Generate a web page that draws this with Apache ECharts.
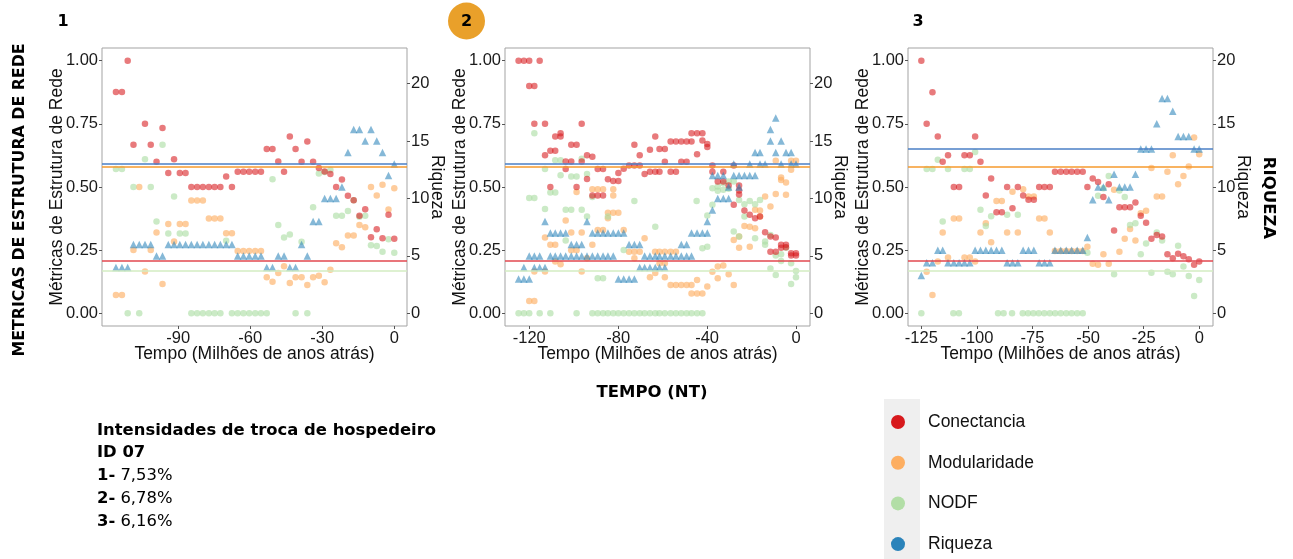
<!DOCTYPE html>
<html>
<head>
<meta charset="utf-8">
<script src="https://cdn.jsdelivr.net/npm/echarts@6/dist/echarts.min.js"></script>
<style>
html,body{margin:0;padding:0;background:#fff}
#main{width:1293px;height:559px}
</style>
</head>
<body>
<div id="main"></div>
<script>
// ---- dados ----
// painel 1: um valor por passo de tempo
var t1 = [-115.9,-113.4,-111.0,-108.6,-106.2,-103.8,-101.4,-99.0,-96.5,-94.1,-91.7,-89.3,-86.9,-84.5,-82.1,-79.7,-77.2,-74.8,-72.4,-70.0,-67.6,-65.2,-62.8,-60.4,-57.9,-55.5,-53.1,-50.7,-48.3,-45.9,-43.5,-41.1,-38.6,-36.2,-33.8,-31.4,-29.0,-26.6,-24.2,-21.8,-19.3,-16.9,-14.5,-12.1,-9.7,-7.3,-4.9,-2.4,0];
var conect1 = [0.876,0.876,1.0,0.667,null,0.75,0.667,0.6,0.733,0.555,0.61,0.555,0.555,0.5,0.5,0.5,0.5,0.5,0.5,0.542,0.5,0.56,0.56,0.56,0.56,0.56,0.65,0.65,0.601,0.56,0.70,0.65,0.60,0.68,0.60,0.575,0.561,0.551,0.5,0.53,0.465,0.448,0.386,0.412,0.301,0.333,0.297,0.39,0.295];
var modul1 = [0.073,0.073,null,0.251,0.5,0.166,0.251,0.32,0.116,0.354,0.284,0.354,0.354,0.447,0.447,0.447,0.375,0.375,0.375,0.317,0.317,0.247,0.247,0.247,0.247,0.247,0.143,0.125,0.16,0.186,0.12,0.143,0.143,0.112,0.143,0.149,0.123,0.173,0.277,0.262,0.308,0.308,0.35,0.341,0.5,0.466,0.509,0.411,0.495];
var nodf1 = [0.571,0.571,0,0.5,0,0.61,0.5,0.363,0.667,0.316,0.462,0.316,0.316,0,0,0,0,0,0,0.287,0,0,0,0,0,0,0,0.531,0.35,0.3,0.312,0,0.283,0,0.42,0.553,0.559,0.567,0.386,0.386,0.405,0.448,0.382,0.386,0.27,0.267,0.244,0.293,0.24];
var riq1 = [4,4,4,6,6,6,6,5,5,6,6,6,6,6,6,6,6,6,6,6,6,5,5,5,5,5,4,4,5,5,4,4,6,5,8,8,10,10,10,11,14,16,16,15,16,15,14,12,13];

// painel 2: pares [tempo, valor]
var conect2 = [[-124.8,1.0],[-122.4,1.0],[-120,1.0],[-115.3,1.0],[-120,0.9],[-117.7,0.9],[-117.7,0.75],[-112.9,0.75],[-112.9,0.626],[-110.5,0.643],[-108.3,0.643],[-108.3,0.70],[-105.9,0.713],[-105.9,0.70],[-103.6,0.601],[-103.6,0.571],[-101.1,0.601],[-101.1,0.667],[-98.7,0.667],[-96.4,0.75],[-96.4,0.601],[-94,0.626],[-91.6,0.62],[-98.7,0.5],[-110.5,0.5],[-94,0.532],[-89.2,0.571],[-86.8,0.571],[-91.6,0.466],[-89.2,0.466],[-86.8,0.466],[-84.6,0.531],[-82.2,0.524],[-79.9,0.524],[-79.9,0.555],[-77.5,0.572],[-75.1,0.585],[-72.7,0.585],[-70.3,0.585],[-72.7,0.667],[-70.3,0.626],[-68.1,0.551],[-65.7,0.56],[-63.3,0.56],[-65.7,0.647],[-63.3,0.70],[-61.4,0.65],[-59,0.65],[-59,0.60],[-61.4,0.56],[-56.4,0.68],[-54,0.68],[-51.6,0.68],[-49.2,0.68],[-47,0.68],[-51.6,0.60],[-49.2,0.60],[-56.4,0.56],[-54,0.56],[-47,0.713],[-44.5,0.713],[-42.1,0.713],[-44.5,0.63],[-42.1,0.684],[-39.9,0.67],[-39.9,0.658],[-37.6,0.585],[-37.6,0.56],[-35.2,0.522],[-32.7,0.522],[-32.7,0.56],[-30.3,0.506],[-28,0.585],[-28,0.43],[-25.6,0.506],[-25.6,0.486],[-25.6,0.47],[-23.2,0.407],[-20.8,0.39],[-18.4,0.376],[-16.2,0.383],[-13.9,0.321],[-11.5,0.304],[-9.1,0.3],[-11.5,0.244],[-9.1,0.244],[-6.7,0.271],[-4.5,0.271],[-4.5,0.262],[-6.7,0.26],[-2.2,0.238],[0,0.238],[-2.2,0.229],[0,0.229]];
var modul2 = [[-120,0.049],[-117.7,0.049],[-117.7,0.166],[-112.9,0.166],[-112.9,0.3],[-110.5,0.271],[-108.3,0.271],[-108.3,0.205],[-105.9,0.194],[-103.6,0.367],[-101.1,0.32],[-96.4,0.32],[-101.1,0.25],[-98.7,0.25],[-96.4,0.166],[-98.7,0.48],[-94,0.218],[-91.6,0.271],[-91.6,0.491],[-89.2,0.491],[-86.8,0.491],[-89.2,0.33],[-86.8,0.33],[-84.6,0.398],[-82.2,0.398],[-79.9,0.398],[-84.6,0.376],[-82.2,0.491],[-82.2,0.466],[-77.5,0.33],[-75.1,0.244],[-72.7,0.244],[-70.3,0.244],[-72.7,0.218],[-68.1,0.297],[-65.7,0.143],[-63.3,0.16],[-63.4,0.244],[-61.4,0.244],[-59,0.244],[-61.4,0.198],[-59,0.198],[-59,0.143],[-56.4,0.112],[-54,0.112],[-51.6,0.112],[-49.2,0.112],[-47,0.112],[-56.4,0.244],[-54,0.244],[-44.5,0.132],[-47,0.079],[-44.5,0.079],[-42.1,0.079],[-39.9,0.106],[-37.6,0.165],[-35.2,0.185],[-32.7,0.189],[-35.2,0.139],[-30.3,0.155],[-28,0.112],[-28,0.29],[-25.6,0.304],[-25.6,0.26],[-23.2,0.346],[-20.8,0.264],[-20.8,0.343],[-18.4,0.337],[-16.2,0.383],[-18.4,0.41],[-16.2,0.407],[-13.9,0.462],[-11.5,0.423],[-9.1,0.472],[-6.7,0.538],[-6.7,0.528],[-4.5,0.518],[-4.5,0.469],[-9.1,0.604],[-2.2,0.604],[0,0.604],[-2.2,0.568]];
var nodf2 = [[-124.8,0],[-122.4,0],[-120,0],[-115.3,0],[-110.5,0],[-98.7,0],[-91.6,0],[-89.2,0],[-86.8,0],[-84.6,0],[-82.2,0],[-79.9,0],[-77.5,0],[-75.1,0],[-72.7,0],[-70.3,0],[-68.1,0],[-65.7,0],[-63.3,0],[-61.4,0],[-59,0],[-56.4,0],[-54,0],[-51.6,0],[-49.2,0],[-47,0],[-44.5,0],[-42.1,0],[-117.7,0.713],[-120,0.456],[-117.7,0.456],[-112.9,0.571],[-112.9,0.413],[-110.5,0.478],[-108.3,0.478],[-108.3,0.606],[-105.9,0.606],[-105.9,0.546],[-103.6,0.41],[-101.1,0.41],[-103.6,0.288],[-101.1,0.542],[-98.7,0.542],[-96.4,0.612],[-96.4,0.41],[-94,0.551],[-94,0.383],[-91.6,0.46],[-89.2,0.139],[-86.8,0.139],[-84.6,0.383],[-77.5,0.251],[-72.7,0.445],[-63.3,0.343],[-44.7,0.445],[-42.1,0.258],[-39.9,0.264],[-39.9,0.387],[-37.6,0.43],[-37.6,0.495],[-35.2,0.485],[-35.2,0.502],[-32.7,0.515],[-32.7,0.489],[-30.3,0.493],[-30.3,0.522],[-28,0.522],[-25.6,0.449],[-23.2,0.432],[-23.2,0.383],[-20.8,0.445],[-18.4,0.432],[-16.2,0.449],[-28,0.324],[-25.6,0.304],[-18.4,0.297],[-13.9,0.284],[-13.9,0.271],[-11.5,0.31],[-9.1,0.229],[-6.7,0.234],[-4.5,0.26],[-11.5,0.178],[-9.1,0.152],[-6.7,0.207],[-2.2,0.116],[0,0.168],[0,0.143],[-2.2,0.198]];
var riq2 = [[-124.8,3],[-122.4,3],[-120,3],[-79.9,3],[-77.5,3],[-75.1,3],[-72.7,3],[-122.4,4],[-117.7,4],[-115.3,4],[-112.9,4],[-70.3,4],[-68.1,4],[-65.7,4],[-63.3,4],[-61.4,4],[-59,4],[-120,5],[-117.7,5],[-115.3,5],[-110.5,5],[-108.3,5],[-105.9,5],[-103.6,5],[-101.1,5],[-98.7,5],[-96.4,5],[-94,5],[-91.6,5],[-89.2,5],[-86.8,5],[-84.6,5],[-82.2,5],[-68.1,5],[-65.7,5],[-63.3,5],[-61.4,5],[-59,5],[-56.4,5],[-54,5],[-51.6,5],[-49.2,5],[-47,5],[-101.1,6],[-98.7,6],[-96.4,6],[-75.1,6],[-72.7,6],[-70.3,6],[-51.6,6],[-49.2,6],[-110.5,7],[-108.3,7],[-105.9,7],[-103.6,7],[-91.6,7],[-89.2,7],[-86.8,7],[-84.6,7],[-82.2,7],[-79.9,7],[-77.5,7],[-47,7],[-44.5,7],[-42.1,7],[-39.9,7],[-112.9,8],[-94,8],[-39.9,8],[-37.6,9],[-35.2,10],[-32.7,10],[-30.3,10],[-30.3,11],[-25.6,11],[-37.6,12],[-35.2,12],[-32.7,12],[-28,12],[-25.6,12],[-23.2,12],[-20.8,12],[-18.4,12],[-28,13],[-20.8,13],[-16.2,13],[-13.9,13],[-6.7,13],[-2.2,13],[0,13],[-18.4,14],[-16.2,14],[-9.1,14],[-4.5,14],[-2.2,14],[-11.5,15],[-6.7,15],[-11.5,16],[-9.1,17]];

// painel 3: pares [tempo, valor]
var conect3 = [[-125,1.0],[-120,0.875],[-122.6,0.75],[-117.6,0.70],[-100.8,0.70],[-115.4,0.6],[-113,0.626],[-105.6,0.626],[-103.2,0.626],[-98.4,0.6],[-110.4,0.5],[-108,0.5],[-93.6,0.534],[-96,0.466],[-91.2,0.4],[-88.8,0.4],[-86.4,0.5],[-84,0.416],[-81.6,0.5],[-79.2,0.466],[-76.8,0.45],[-74.4,0.45],[-72,0.5],[-69.6,0.5],[-67.2,0.5],[-64.9,0.56],[-62.3,0.56],[-59.8,0.56],[-57.4,0.56],[-54.9,0.56],[-52.4,0.56],[-50.3,0.5],[-47.9,0.534],[-45.5,0.52],[-43.1,0.46],[-40.7,0.511],[-38.3,0.328],[-35.9,0.42],[-33.5,0.42],[-31.1,0.42],[-28.7,0.439],[-26.3,0.386],[-23.9,0.359],[-21.5,0.295],[-19.1,0.31],[-16.7,0.304],[-14.3,0.234],[-11.9,0.218],[-9.5,0.236],[-7.1,0.226],[-4.7,0.214],[-2.3,0.192],[0,0.205]];
var modul3 = [[-120,0.073],[-122.6,0.165],[-117.6,0.205],[-115.4,0.32],[-113,0.221],[-110.4,0.375],[-108,0.375],[-105.6,0.221],[-103.2,0.221],[-100.8,0.205],[-98.4,0.32],[-96,0.357],[-93.6,0.281],[-91.2,0.445],[-88.8,0.445],[-86.4,0.32],[-84,0.481],[-81.6,0.32],[-79.2,0.491],[-76.8,0.462],[-74.4,0.462],[-72,0.375],[-69.6,0.375],[-67.2,0.32],[-64.9,0.247],[-62.3,0.247],[-59.8,0.247],[-57.4,0.247],[-54.9,0.247],[-52.4,0.247],[-50.3,0.264],[-47.9,0.196],[-45.5,0.192],[-43.1,0.234],[-40.7,0.196],[-38.3,0.489],[-35.9,0.244],[-33.5,0.295],[-31.1,0.334],[-28.7,0.288],[-26.3,0.396],[-23.9,0.406],[-21.5,0.575],[-19.1,0.462],[-16.7,0.462],[-14.3,0.56],[-11.9,0.626],[-9.5,0.511],[-7.1,0.544],[-4.7,0.581],[-2.3,0.696],[0,0.63]];
var nodf3 = [[-125,0],[-110.6,0],[-108.1,0],[-90.5,0],[-88,0],[-84.2,0],[-79.4,0],[-77,0],[-74.6,0],[-72.2,0],[-69.7,0],[-67.2,0],[-64.8,0],[-62.3,0],[-59.8,0],[-57.4,0],[-54.9,0],[-52.4,0],[-122.6,0.571],[-120,0.571],[-117.6,0.608],[-113,0.571],[-115.4,0.363],[-105.6,0.571],[-103.2,0.571],[-100.8,0.638],[-98.4,0.41],[-96,0.346],[-93.6,0.384],[-86.4,0.39],[-81.6,0.39],[-50.3,0.24],[-45.5,0.465],[-43.1,0.495],[-40.7,0.544],[-38.3,0.155],[-35.9,0.486],[-33.5,0.46],[-31.1,0.35],[-28.7,0.357],[-26.3,0.234],[-23.9,0.276],[-21.5,0.161],[-19.1,0.32],[-16.7,0.288],[-14.3,0.165],[-11.9,0.155],[-9.5,0.268],[-7.1,0.185],[-4.7,0.148],[-2.3,0.069],[0,0.132]];
var riq3 = [[-125,3],[-122.6,4],[-120,4],[-113,4],[-110.4,4],[-108,4],[-105.6,4],[-103.2,4],[-86.4,4],[-84,4],[-81.6,4],[-72,4],[-69.6,4],[-67.2,4],[-117.6,5],[-115.4,5],[-100.8,5],[-98.4,5],[-96,5],[-93.6,5],[-91.2,5],[-88.8,5],[-79.2,5],[-76.8,5],[-74.4,5],[-64.9,5],[-62.3,5],[-59.8,5],[-57.4,5],[-54.9,5],[-52.4,5],[-50.3,6],[-47.9,9],[-40.7,9],[-45.5,10],[-43.1,10],[-35.9,10],[-33.5,10],[-31.1,10],[-38.3,11],[-28.7,11],[-26.3,13],[-23.9,13],[-21.5,13],[-2.3,13],[0,13],[-19.1,15],[-16.7,17],[-14.3,17],[-11.9,16],[-9.5,14],[-7.1,14],[-4.7,14]];

// linhas de referencia: conectancia, modularidade, nodf, riqueza
var refLines = [0.215, 0.58, 0.17, 13];
// ticks
var xTicks1 = [-90,-60,-30,0];
var xTicks2 = [-120,-80,-40,0];
var xTicks3 = [-125,-100,-75,-50,-25,0];
var yTicks = [0,0.25,0.5,0.75,1];
var riqTicks = [0,5,10,15,20];
var nomes = ['Conectancia','Modularidade','NODF','Riqueza'];
var intensidades = ['7,53%','6,78%','6,16%'];

var chart = echarts.init(document.getElementById('main'));
var axisFont = 'Liberation Sans, Arial, sans-serif';
var titleFont = 'DejaVu Sans, Inter, sans-serif';

var corPonto = ['rgba(215,25,28,0.72)','rgba(253,174,97,0.78)','rgba(171,221,164,0.78)','rgba(43,131,186,0.72)'];
var corLinha = ['#e2474f','#f69a2c','#d3ecc2','#4a7fc6'];
var corLegenda = ['#d7191c','#fdae61','#b2dea6','#2b83ba'];

function pontos(t, arr){
	var out = [];
	for(var i=0;i<arr.length;i++){
		if(Array.isArray(arr[i])) out.push(arr[i]);
		else if(arr[i]!=null) out.push([t[i],arr[i]]);
	}
	return out;
}

//riqueza no eixo direito: 1.0 da esquerda = 22 (paineis 1,2) ou 20 (painel 3)
var paineis = [
	{left:102, min:-121.7, max:5.3, ticks:xTicks1, rMin:-1.1, rMax:23.1, s:[conect1,modul1,nodf1,riq1], t:t1},
	{left:505, min:-130.9, max:6.3, ticks:xTicks2, rMin:-1.1, rMax:23.1, s:[conect2,modul2,nodf2,riq2]},
	{left:908, min:-131.0, max:6.2, ticks:xTicks3, rMin:-1, rMax:21, s:[conect3,modul3,nodf3,riq3]}
];

var tickStyle = {color:'#555'};
var grid=[], xAxis=[], yAxis=[], series=[];
paineis.forEach(function(p,g){
	grid.push({left:p.left, top:48, width:305, height:278, show:true, borderColor:'#a3a3a3', borderWidth:1});
	xAxis.push({
		type:'value', gridIndex:g, min:p.min, max:p.max,
		axisLine:{show:false, onZero:false},
		axisTick:{show:true, length:3, customValues:p.ticks, lineStyle:tickStyle},
		axisLabel:{customValues:p.ticks, fontSize:16.5, color:'#1a1a1a', margin:4, fontFamily:axisFont},
		splitLine:{show:false},
		name:'Tempo (Milhões de anos atrás)', nameLocation:'middle', nameGap:19, nameMoveOverlap:false,
		nameTextStyle:{fontSize:17.5, color:'#111', fontFamily:axisFont}
	});
	yAxis.push({
		type:'value', gridIndex:g, position:'left', min:-0.05, max:1.05,
		axisLine:{show:false, onZero:false},
		axisTick:{show:true, length:3, customValues:yTicks, lineStyle:tickStyle},
		axisLabel:{customValues:yTicks, fontSize:16.5, color:'#1a1a1a', margin:4, fontFamily:axisFont,
			formatter:function(v){return v.toFixed(2);}},
		splitLine:{show:false},
		name:'Métricas de Estrutura de Rede', nameLocation:'middle', nameGap:36, nameMoveOverlap:false,
		nameTextStyle:{fontSize:17.5, color:'#111', fontFamily:axisFont}
	});
	yAxis.push({
		type:'value', gridIndex:g, position:'right', min:p.rMin, max:p.rMax,
		axisLine:{show:false, onZero:false},
		axisTick:{show:true, length:3, customValues:riqTicks, lineStyle:tickStyle},
		axisLabel:{customValues:riqTicks, fontSize:16.5, color:'#1a1a1a', margin:4, fontFamily:axisFont},
		splitLine:{show:false},
		name:'Riqueza', nameLocation:'middle', nameGap:21, nameRotate:-90, nameMoveOverlap:false,
		nameTextStyle:{fontSize:17.5, color:'#111', fontFamily:axisFont}
	});
	// ordem de desenho: modularidade, nodf, conectancia, riqueza
	[1,2,0,3].forEach(function(m){
		series.push({
			name:nomes[m], type:'scatter',
			xAxisIndex:g, yAxisIndex: m==3 ? 2*g+1 : 2*g,
			symbol: m==3 ? 'triangle' : 'circle',
			symbolSize: m==3 ? 7.5 : 6.5,
			itemStyle:{color:corPonto[m]},
			data:pontos(p.t, p.s[m]),
			markLine:{
				silent:true, symbol:'none', animation:false,
				label:{show:false},
				lineStyle:{color:corLinha[m], width:1.5, type:'solid', opacity:1},
				data:[{yAxis:refLines[m]}]
			}
		});
	});
});

var graphic = [
	{type:'text', x:63, y:22, style:{text:'1', fontSize:16, fontWeight:'bold', fontFamily:titleFont, fill:'#000', align:'center', verticalAlign:'middle'}},
	{type:'circle', shape:{cx:466.5, cy:21, r:18.5}, style:{fill:'#e9a02a'}},
	{type:'text', x:466.5, y:22, style:{text:'2', fontSize:16, fontWeight:'bold', fontFamily:titleFont, fill:'#000', align:'center', verticalAlign:'middle'}},
	{type:'text', x:918, y:22, style:{text:'3', fontSize:16, fontWeight:'bold', fontFamily:titleFont, fill:'#000', align:'center', verticalAlign:'middle'}},
	{type:'text', x:20, y:200, rotation:Math.PI/2, style:{text:'METRICAS DE ESTRUTURA DE REDE', fontSize:15.8, fontWeight:'bold', fontFamily:titleFont, fill:'#000', align:'center', verticalAlign:'middle'}},
	{type:'text', x:1268, y:198, rotation:-Math.PI/2, style:{text:'RIQUEZA', fontSize:16.5, fontWeight:'bold', fontFamily:titleFont, fill:'#000', align:'center', verticalAlign:'middle'}},
	{type:'text', x:652, y:393, style:{text:'TEMPO (NT)', fontSize:16.5, fontWeight:'bold', fontFamily:titleFont, fill:'#000', align:'center', verticalAlign:'middle'}},
	{type:'text', x:97, y:431, style:{text:'Intensidades de troca de hospedeiro', fontSize:16.4, fontWeight:'bold', fontFamily:titleFont, fill:'#000', verticalAlign:'middle'}},
	{type:'text', x:97, y:453, style:{text:'ID 07', fontSize:16.4, fontWeight:'bold', fontFamily:titleFont, fill:'#000', verticalAlign:'middle'}}
];
intensidades.forEach(function(v,i){
	graphic.push({type:'text', x:97, y:476+23*i, style:{
		text:'{b|'+(i+1)+'-} '+v, fontSize:16.4, fontFamily:titleFont, fill:'#000', verticalAlign:'middle',
		rich:{b:{fontWeight:'bold', fontSize:16.4, fontFamily:titleFont, fill:'#000'}}
	}});
});
// legenda
graphic.push({type:'rect', shape:{x:884, y:399, width:36, height:160}, style:{fill:'#efefef'}});
nomes.forEach(function(n,i){
	var y = 422 + 40.7*i;
	graphic.push({type:'circle', shape:{cx:898, cy:y, r:7}, style:{fill:corLegenda[i]}});
	graphic.push({type:'text', x:928, y:y, style:{text:n, fontSize:17.5, fontFamily:axisFont, fill:'#111', verticalAlign:'middle'}});
});

chart.setOption({
	animation:false,
	backgroundColor:'#fff',
	grid:grid, xAxis:xAxis, yAxis:yAxis, series:series,
	graphic:graphic
});
</script>
</body>
</html>
